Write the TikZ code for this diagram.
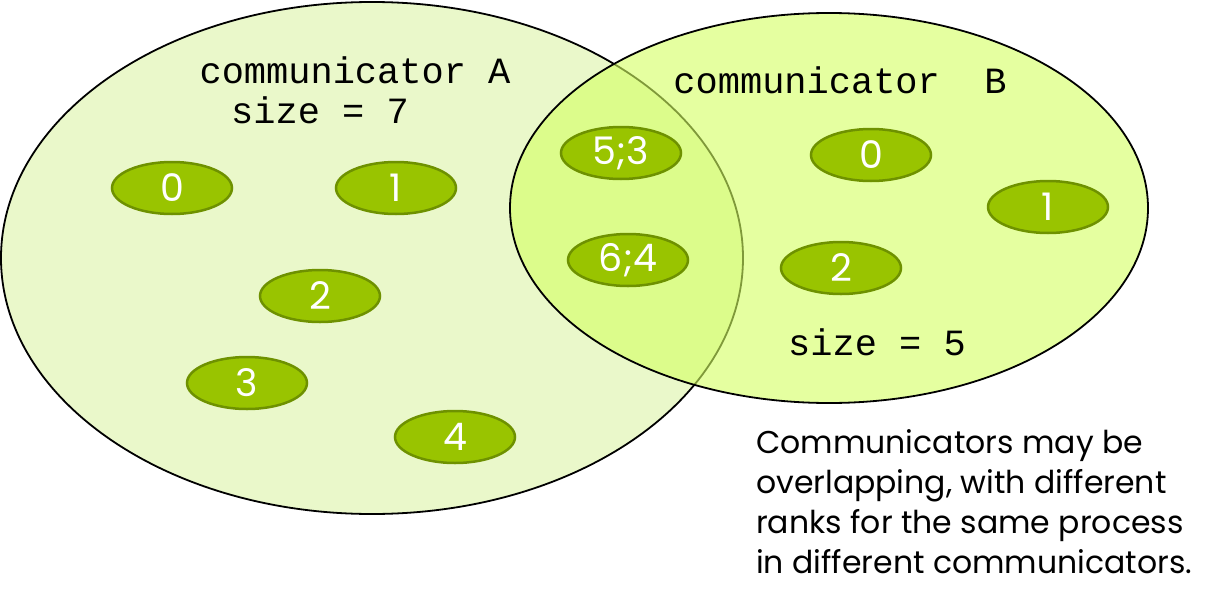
\documentclass[tikz,border=0pt]{standalone}
\usepackage{fontspec}
\setmainfont{Poppins}
\setmonofont{Liberation Mono}
\usetikzlibrary{shapes.geometric}
\definecolor{commA}{RGB}{234,248,202}
\definecolor{commB}{RGB}{212,255,97}
\definecolor{proc}{RGB}{153,196,0}
\definecolor{procline}{RGB}{110,145,0}
\begin{document}
\begin{tikzpicture}[x=1pt,y=-1pt,
  rank/.style={ellipse,draw=procline,line width=2.5pt,fill=proc,text=white,
    minimum width=120pt,minimum height=52pt,inner sep=0pt,
    font=\fontsize{38}{38}\selectfont},
  commlabel/.style={font=\fontsize{37}{37}\ttfamily}]
\useasboundingbox (0,0) rectangle (1227,605);
% communicators
\draw[line width=1.8pt,fill=commA] (372,258) ellipse [x radius=371,y radius=256];
\draw[line width=1.8pt,fill=commB,fill opacity=0.6] (829,208) ellipse [x radius=319,y radius=195];
\node[commlabel] (nameA) at (355,70) {communicator A};
\node[commlabel] (sizeA) at (320,110) {size = 7};
\node[commlabel] (nameB) at (840,80) {communicator~~B};
\node[commlabel] (sizeB) at (877,342) {size = 5};
% ranks
\node[rank] (a0) at (172,188) {0};
\node[rank] (a1) at (396,188) {1};
\node[rank] (a2) at (320,296) {2};
\node[rank] (a3) at (247,383) {3};
\node[rank] (a4) at (455,437) {4};
\node[rank] (ab53) at (621,153) {5;3};
\node[rank] (ab64) at (628,260) {6;4};
\node[rank] (b0) at (871,155) {0};
\node[rank] (b1) at (1048,207) {1};
\node[rank] (b2) at (841,268) {2};
% note
\node[anchor=north west,align=left,inner sep=0pt,
  font=\fontsize{31.5}{40}\selectfont] (note) at (756,429)
  {Communicators may be\\overlapping, with different\\ranks for the same process\\in different communicators.};
\end{tikzpicture}
\end{document}
